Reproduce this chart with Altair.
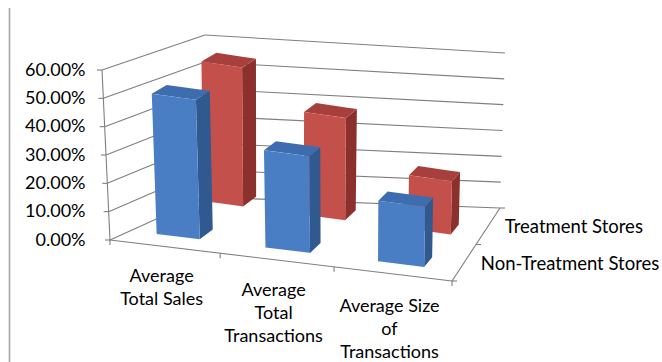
import altair as alt
import pandas as pd

# ---------------- data ----------------
categories = ["Average\nTotal Sales", "Average\nTotal\nTransactions", "Average Size\nof\nTransactions"]
series = ["Non-Treatment Stores", "Treatment Stores"]   # front row, back row
non_treatment = [0.50, 0.35, 0.22]
treatment = [0.51, 0.38, 0.20]
y_ticks = [0.0, 0.1, 0.2, 0.3, 0.4, 0.5, 0.6]

# ---------------- projection set-up (screen px) ----------------
W, H = 662, 362
PAD_L = 104
VMAX = 0.6
FLB = (110.0, 240.0); FLT = (102.0, 70.0)      # front-left edge (value axis)
FRB = (452.0, 281.0)                           # front-right floor corner
BLB = (205.0, 197.0); BLT = (205.0, 35.0)      # back-left wall edge
BRB = (500.0, 208.0); BRT = (505.0, 53.0)      # back-right wall edge
BL_ROW = (208.0, 174.0); BR_ROW = (500.0, 216.0)  # effective back edge for bar rows
PERSP = 0.95                                   # foreshortening along the category axis
PX = (FLB[1] - FLT[1]) / VMAX                  # px per unit on the value axis

def to_y(sy):
    return (FLB[1] - sy) / PX

def lerp(a, b, t):
    return (a[0] + (b[0] - a[0]) * t, a[1] + (b[1] - a[1]) * t)

def warp(u):
    return PERSP * u / (1 + (PERSP - 1) * u)

def floor_pt(u, w):
    u = warp(u)
    x = (1-u)*(1-w)*FLB[0] + u*(1-w)*FRB[0] + u*w*BR_ROW[0] + (1-u)*w*BL_ROW[0]
    y = (1-u)*(1-w)*FLB[1] + u*(1-w)*FRB[1] + u*w*BR_ROW[1] + (1-u)*w*BL_ROW[1]
    return x, y

def P(u, w, v):
    fx, fy = floor_pt(u, w)
    u = warp(u)
    S = (1-u)*(1-w)*170 + u*(1-w)*165 + u*w*155 + (1-u)*w*162
    T = (1-u)*(1-w)*(-8) + u*(1-w)*3 + u*w*5 + (1-u)*w*0
    h = v / VMAX
    return fx + T*h, fy - S*h

def to_area(face, pts):
    xs = sorted(set(round(p[0], 3) for p in pts))
    rows = []
    n = len(pts)
    for x in xs:
        ys = []
        for k in range(n):
            (x1, y1), (x2, y2) = pts[k], pts[(k+1) % n]
            if min(x1, x2) - 1e-3 <= x <= max(x1, x2) + 1e-3:
                if abs(x2 - x1) < 1e-6:
                    ys += [y1, y2]
                else:
                    t = min(max((x - x1) / (x2 - x1), 0), 1)
                    ys.append(y1 + t*(y2 - y1))
        rows.append({"face": face, "x": x, "y": to_y(max(ys)), "y2": to_y(min(ys))})
    return rows

GAP = 0.3   # fraction of category slot left empty on each side
DD = 0.15   # bar depth (fraction of floor depth)
faces = {k: [] for k in ["side1", "top1", "front1", "side0", "top0", "front0"]}
for j, vals in enumerate([non_treatment, treatment]):
    w0 = 0.15 + 0.5*j
    w1 = w0 + DD
    for i, v in enumerate(vals):
        u0 = (i + GAP) / 3
        u1 = (i + 1 - GAP) / 3
        fid = f"{j}-{i}"
        faces[f"front{j}"] += to_area(fid, [P(u0, w0, 0), P(u1, w0, 0), P(u1, w0, v), P(u0, w0, v)])
        faces[f"side{j}"] += to_area(fid, [P(u1, w0, 0), P(u1, w1, 0), P(u1, w1, v), P(u1, w0, v)])
        faces[f"top{j}"] += to_area(fid, [P(u0, w0, v), P(u1, w0, v), P(u1, w1, v), P(u0, w1, v)])

# ---------------- lines: walls, grid, floor, ticks ----------------
segs = []
def seg(a, b):
    segs.append({"x": a[0], "y": to_y(a[1]), "x2": b[0], "y2": to_y(b[1])})

for t in y_ticks:
    f = t / VMAX
    fl = lerp(FLB, FLT, f); bl = lerp(BLB, BLT, f); br = lerp(BRB, BRT, f)
    seg(fl, bl); seg(bl, br)
    seg((fl[0] - 5, fl[1]), fl)
seg(FLB, FLT)
seg(FLB, FRB)
seg(FRB, BRB)
for k in range(len(categories) + 1):
    p = lerp(FLB, FRB, warp(k / len(categories)))
    seg(p, (p[0], p[1] + 5))
for k in range(len(series) + 1):
    p = lerp(FRB, BRB, k / len(series))
    seg(p, (p[0] + 5, p[1]))

xs = alt.Scale(domain=[PAD_L, W], nice=False, zero=False)
ys = alt.Scale(domain=[to_y(H), to_y(0)], nice=False, zero=False)
yaxis = alt.Axis(values=y_ticks, format=".2%", ticks=False, domain=False, grid=False,
                 labelFont="Lato", labelFontSize=18, labelColor="#000000",
                 labelPadding=19, title=None)

def X():
    return alt.X("x:Q", scale=xs, axis=None)

def Y():
    return alt.Y("y:Q", scale=ys, axis=yaxis)

rules = alt.Chart(pd.DataFrame(segs)).mark_rule(color="#7f7f7f", strokeWidth=1.1).encode(
    x=X(), x2="x2:Q", y=Y(), y2="y2:Q")

border = alt.Chart(pd.DataFrame({"k": [0]})).mark_rule(color="#a8a8a8", strokeWidth=1.6).encode(
    x=alt.value(9.5 - PAD_L), y=alt.value(8), y2=alt.value(H))

colors = {"front0": "#4a7ec4", "top0": "#3d6dae", "side0": "#30598f",
          "front1": "#c4504c", "top1": "#a7403d", "side1": "#8c302e"}

def face_layer(key):
    return alt.Chart(pd.DataFrame(faces[key])).mark_area(
        color=colors[key], orient="vertical", strokeWidth=0).encode(
        x=X(), y=Y(), y2="y2:Q", detail="face:N")

# ---------------- labels ----------------
cat_rows = []
for i, c in enumerate(categories):
    p = lerp(FLB, FRB, warp((i + 0.5) / len(categories)))
    cat_rows.append({"label": c, "x": p[0] - 3, "y": to_y(p[1] + 21 + 1.5*i)})
cat_text = alt.Chart(pd.DataFrame(cat_rows)).mark_text(
    font="Lato", fontSize=18, color="#000000", align="center", baseline="top",
    lineBreak="\n", lineHeight=23).encode(x=X(), y=Y(), text="label:N")

ser_rows = []
for j, s in enumerate(series):
    p = lerp(FRB, BRB, 0.15 + 0.5*j + DD/2)
    ser_rows.append({"label": s, "x": p[0] + 18, "y": to_y(p[1] - 1)})
ser_text = alt.Chart(pd.DataFrame(ser_rows)).mark_text(
    font="Lato", fontSize=18.5, color="#000000", align="left", baseline="middle").encode(
    x=X(), y=Y(), text="label:N")

chart = alt.layer(
    border, rules,
    face_layer("side1"), face_layer("top1"), face_layer("front1"),
    face_layer("side0"), face_layer("top0"), face_layer("front0"),
    cat_text, ser_text,
).properties(
    width=W - PAD_L, height=H,
    background="white",
    autosize=alt.AutoSizeParams(type="none"),
    padding={"left": PAD_L, "top": 0, "right": 0, "bottom": 0},
).configure_view(strokeWidth=0)

chart.save("out.html", embed_options={"renderer": "svg", "actions": False})
